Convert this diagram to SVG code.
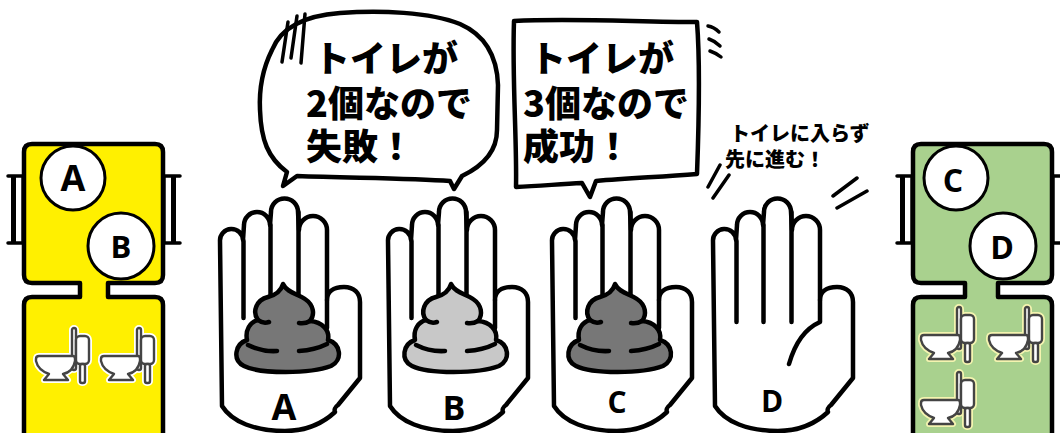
<svg xmlns="http://www.w3.org/2000/svg" xmlns:xlink="http://www.w3.org/1999/xlink" width="1060" height="433" viewBox="0 0 1060 433">
  <style>
    .outline { stroke: #000; stroke-width: 4.5; stroke-linejoin: round; stroke-linecap: round; }
    .line { fill: none; stroke: #000; stroke-width: 4.5; stroke-linecap: round; stroke-linejoin: round; }
    .hatch { fill: none; stroke: #000; stroke-width: 3.5; stroke-linecap: round; }
    .palm { fill: #fff; }
    .dark { fill: #777; }
    .light { fill: #c8c8c8; }
    .yellow { fill: #fff000; }
    .green { fill: #a9d18e; }
    .badge { fill: #fff; stroke: #000; stroke-width: 3; }
    .label { font-family: "Open Sans", "Liberation Sans", sans-serif; font-weight: 700; fill: #000; text-anchor: middle; }
    .speech { font-family: "Noto Sans CJK JP", sans-serif; font-weight: 900; font-size: 36px; fill: #000; }
    .note { font-family: "Noto Sans CJK JP", sans-serif; font-weight: 900; font-size: 20px; fill: #000; }
    .wc { fill: #fff; stroke: #444; stroke-width: 2.4; stroke-linejoin: round; }
    .wc-halo { fill: none; stroke-width: 6; stroke-linejoin: round; }
  </style>
  <defs>
    <!-- open hand, palm facing out, thumb on the right -->
    <path id="hand" d="M 222 406 L 220 241 A 11.5 11.5 0 0 1 243 240 L 244 225 A 13 13 0 0 1 270 225 L 271 212 A 13.5 13.5 0 0 1 298 212 L 299 230 A 14 14 0 0 1 327 230 L 327 300 C 327 292 333 287 344 287 C 354 287 360 293 360 302 L 360 378 L 338 405 C 335 407 334 410 335 412 C 322 424 305 431 285 431 C 255 431 232 422 222 406 Z"/>
    <path id="fingers" d="M 243.5 241 L 243.5 318 M 270.5 225 L 270.5 300 M 298.5 212 L 298.5 300 M 327 300 L 327 328"/>
    <path id="fingers-long" d="M 243.5 241 L 243.5 322 M 270.5 225 L 270.5 322 M 298.5 212 L 298.5 322 M 327 300 L 327 322 C 318 326 304 336 296 364"/>
    <!-- swirl pile -->
    <path id="pile" d="M 283 284 C 287 293 298 294 305 299 C 314 305 315 315 310 321 C 322 322 330 330 328 340 C 341 344 343 360 331 366 C 310 374 260 374 244 366 C 232 360 235 344 247 340 C 245 330 250 322 258 320 C 252 312 256 300 268 297 C 276 295 281 291 283 284 Z"/>
    <path id="pile-folds" d="M 258 320 Q 263 324 269 322 M 310 321 Q 305 324 299 323 M 248 345 Q 262 352 277 351 M 299 351 Q 315 350 327 344"/>
    <!-- toilet icon, local origin top-left -->
    <g id="toilet">
      <rect x="37" y="0" width="4" height="42" rx="2"/>
      <rect x="41" y="8" width="13" height="28" rx="4"/>
      <rect x="45" y="36" width="5" height="19" rx="2"/>
      <path d="M 1 31 Q 1 28 4 28 L 38 28 Q 40 28 40 31 L 40 33 Q 38 44 28 46 L 33 52 L 9 52 L 14 46 Q 3 42 1 33 Z"/>
    </g>
  </defs>

  <!-- left room: two toilets -->
  <g id="room-ab">
    <path class="yellow outline" d="M 32 144 L 155 144 Q 163 144 163 152 L 163 275 Q 163 283 155 283 L 108 283 L 108 297 L 155 297 Q 163 297 163 305 L 163 440 L 24 440 L 24 305 Q 24 297 32 297 L 80 297 L 80 283 L 32 283 Q 24 283 24 275 L 24 152 Q 24 144 32 144 Z"/>
    <g id="door-ab-left">
      <rect x="13" y="176" width="9" height="67" fill="#fff" stroke="#000" stroke-width="1.5"/>
      <rect x="11" y="176" width="5" height="67" fill="#000"/>
      <path class="hatch" d="M 8 176 L 24 176 M 8 243 L 24 243" stroke-width="3"/>
    </g>
    <g id="door-ab-right">
      <rect x="165" y="176" width="9" height="67" fill="#fff" stroke="#000" stroke-width="1.5"/>
      <rect x="171" y="176" width="5" height="67" fill="#000"/>
      <path class="hatch" d="M 163 176 L 180 176 M 163 243 L 180 243" stroke-width="3"/>
    </g>
    <g id="toilets-ab">
      <use href="#toilet" x="35" y="328" class="wc-halo" stroke="#fff"/>
      <use href="#toilet" x="35" y="328" class="wc"/>
      <use href="#toilet" x="100" y="328" class="wc-halo" stroke="#fff"/>
      <use href="#toilet" x="100" y="328" class="wc"/>
    </g>
    <g id="person-a-badge">
      <circle class="badge" cx="73" cy="178" r="32"/>
      <text class="label" x="73" y="191" font-size="36">A</text>
    </g>
    <g id="person-b-badge">
      <circle class="badge" cx="121" cy="246" r="33"/>
      <text class="label" x="121" y="258" font-size="31">B</text>
    </g>
  </g>

  <!-- right room: three toilets -->
  <g id="room-cd">
    <path class="green outline" d="M 921 144 L 1044 144 Q 1052 144 1052 152 L 1052 275 Q 1052 283 1044 283 L 998 283 L 998 297 L 1044 297 Q 1052 297 1052 305 L 1052 440 L 913 440 L 913 305 Q 913 297 921 297 L 965 297 L 965 283 L 921 283 Q 913 283 913 275 L 913 152 Q 913 144 921 144 Z"/>
    <g id="door-cd-left">
      <rect x="902" y="176" width="9" height="67" fill="#fff" stroke="#000" stroke-width="1.5"/>
      <rect x="900" y="176" width="5" height="67" fill="#000"/>
      <path class="hatch" d="M 897 176 L 913 176 M 897 243 L 913 243" stroke-width="3"/>
    </g>
    <g id="door-cd-right">
      <rect x="1054" y="176" width="9" height="67" fill="#fff" stroke="#000" stroke-width="1.5"/>
      <path class="hatch" d="M 1052 176 L 1062 176 M 1052 243 L 1062 243" stroke-width="3"/>
    </g>
    <g id="toilets-cd">
      <use href="#toilet" x="920" y="307" class="wc-halo" stroke="#f4f4b0"/>
      <use href="#toilet" x="920" y="307" class="wc"/>
      <use href="#toilet" x="988" y="307" class="wc-halo" stroke="#f4f4b0"/>
      <use href="#toilet" x="988" y="307" class="wc"/>
      <use href="#toilet" x="920" y="372" class="wc-halo" stroke="#f4f4b0"/>
      <use href="#toilet" x="920" y="372" class="wc"/>
    </g>
    <g id="person-c-badge">
      <circle class="badge" cx="956" cy="178" r="32"/>
      <text class="label" x="953" y="192" font-size="32">C</text>
    </g>
    <g id="person-d-badge">
      <circle class="badge" cx="1003" cy="246" r="33"/>
      <text class="label" x="1002" y="259" font-size="32">D</text>
    </g>
  </g>

  <!-- hands -->
  <g id="hand-a">
    <use href="#hand" class="palm outline"/>
    <use href="#fingers" class="line"/>
    <use href="#pile" class="dark outline" stroke-width="5"/>
    <use href="#pile-folds" class="line" stroke-width="3"/>
    <text class="label" x="284" y="420" font-size="36">A</text>
  </g>
  <g id="hand-b" transform="translate(168 0)">
    <use href="#hand" class="palm outline"/>
    <use href="#fingers" class="line"/>
    <use href="#pile" class="light outline" stroke-width="5"/>
    <use href="#pile-folds" class="line" stroke-width="3"/>
    <text class="label" x="286" y="420" font-size="34">B</text>
  </g>
  <g id="hand-c" transform="translate(332 0)">
    <use href="#hand" class="palm outline"/>
    <use href="#fingers" class="line"/>
    <use href="#pile" class="dark outline" stroke-width="5"/>
    <use href="#pile-folds" class="line" stroke-width="3"/>
    <text class="label" x="285" y="413" font-size="30">C</text>
  </g>
  <g id="hand-d" transform="translate(493 0)">
    <use href="#hand" class="palm outline"/>
    <use href="#fingers-long" class="line"/>
    <text class="label" x="279" y="412" font-size="30">D</text>
  </g>

  <!-- speech bubbles and marks -->
  <g id="bubble-fail">
    <path class="outline" fill="#fff" stroke-width="4" d="M 297 176 C 350 178 410 178 450 181 L 454 189 L 462 176 C 485 165 497 150 497 130 L 498 85 C 497 55 485 35 460 24 C 430 12 380 10 340 13 C 300 16 280 30 272 50 C 262 70 259 90 260 110 C 261 140 268 158 287 172 L 283 186 Z"/>
    <path class="hatch" stroke-width="4" d="M 282 62 L 288 22 M 291 58 L 297 16 M 301 63 L 305 14"/>
    <text class="speech" x="314" y="72">トイレが<tspan x="306" dy="45">2個なので</tspan><tspan x="306" dy="43">失敗！</tspan></text>
  </g>
  <g id="bubble-success">
    <path class="outline" fill="#fff" stroke-width="4.5" d="M 514 21 C 570 18 640 22 697 22 C 700 60 699 120 697 174 C 660 177 630 178 596 181 L 590 197 L 582 183 C 560 184 540 186 516 187 C 517 140 512 80 514 21 Z"/>
    <path class="hatch" d="M 708 26 Q 714 27 719 32 M 709 39 Q 715 41 720 46 M 710 51 Q 716 53 721 57"/>
    <text class="speech" x="530" y="72">トイレが<tspan x="523" dy="45">3個なので</tspan><tspan x="523" dy="43">成功！</tspan></text>
  </g>
  <g id="note-d">
    <text class="note" x="730" y="141">トイレに入らず<tspan x="725" dy="26">先に進む！</tspan></text>
    <path class="hatch" d="M 708 187 L 720 165 M 713 198 L 729 175 M 833 196 L 857 178 M 837 208 L 867 191"/>
  </g>
</svg>
